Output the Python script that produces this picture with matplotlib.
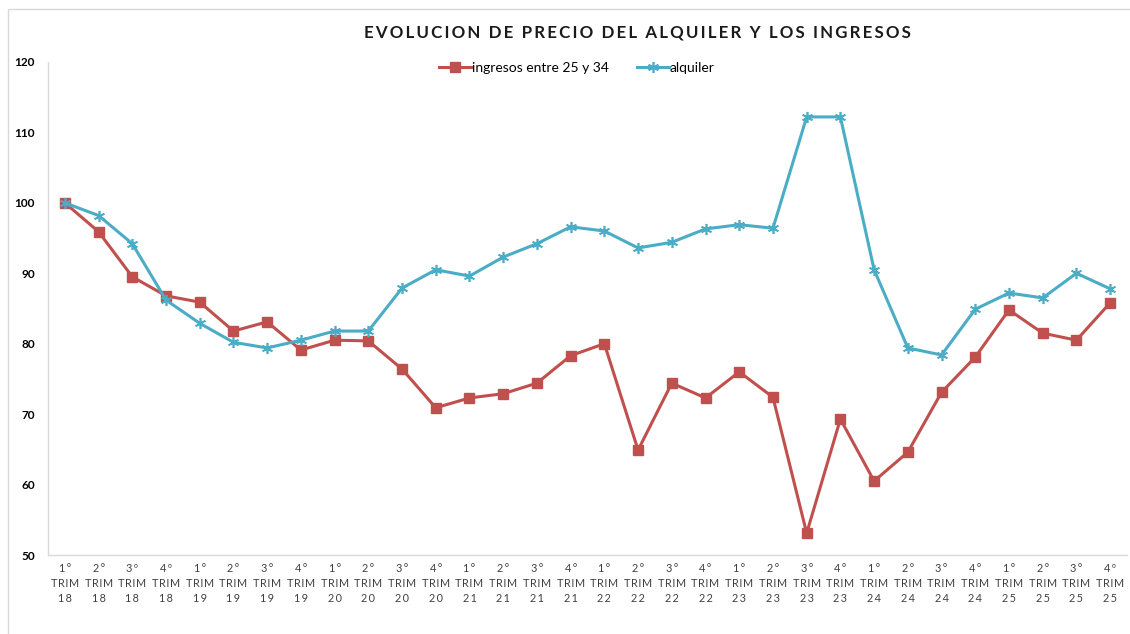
import numpy as np
import matplotlib
matplotlib.use("Agg")
import matplotlib.pyplot as plt
from matplotlib.patches import Rectangle

plt.rcParams.update({"font.family": ["Lato", "DejaVu Sans"]})

RED = "#C0504D"
BLUE = "#4BACC6"

# ── data ─────────────────────────────────────────────────────────────────────
ordinals = ["1°", "2°", "3º", "4º",
            "1°", "2°", "3°", "4°",
            "1°", "2°", "3°", "4°",
            "1°", "2°", "3°", "4°",
            "1°", "2°", "3°", "4°",
            "1°", "2°", "3°", "4°",
            "1°", "2°", "3°", "4°",
            "1°", "2°", "3°", "4º"]
years = ["18"] * 4 + ["19"] * 4 + ["20"] * 4 + ["21"] * 4 + \
        ["22"] * 4 + ["23"] * 4 + ["24"] * 4 + ["25"] * 4

ingresos = [100.0, 95.9, 89.5, 86.8, 85.9, 81.8, 83.1, 79.1,
            80.5, 80.4, 76.4, 70.9, 72.3, 72.9, 74.4, 78.3,
            80.0, 64.9, 74.4, 72.3, 76.0, 72.4, 53.1, 69.3,
            60.5, 64.6, 73.1, 78.1, 84.8, 81.5, 80.5, 85.8]
alquiler = [100.0, 98.2, 94.2, 86.2, 82.9, 80.2, 79.4, 80.5,
            81.8, 81.8, 87.9, 90.5, 89.6, 92.3, 94.2, 96.6,
            96.0, 93.6, 94.4, 96.3, 96.9, 96.4, 112.2, 112.2,
            90.5, 79.4, 78.4, 84.9, 87.2, 86.5, 90.0, 87.8]

def spaced(s, sep="\u200a"):
    return sep.join(s)

labels = [spaced(o, "\u2009") + "\n" + spaced("TRIM") + "\n" + spaced(y, "\u2009")
          for o, y in zip(ordinals, years)]

# ── figure ───────────────────────────────────────────────────────────────────
fig = plt.figure(figsize=(11.3, 6.34), dpi=100)
fig.patches.append(Rectangle((8 / 1130, -0.1), 1.2, 1.1 - 9 / 634,
                             transform=fig.transFigure, fill=False,
                             edgecolor="#D9D9D9", linewidth=1.0))

ax = fig.add_axes([48 / 1130, 79 / 634, 1079 / 1130, 493 / 634])
x = np.arange(len(ingresos))

ax.plot(x, ingresos, color=RED, lw=2.2, marker="s", markersize=7,
        label="ingresos entre 25 y 34")
ax.plot(x, alquiler, color=BLUE, lw=2.2, marker=(6, 2, 0), markersize=8,
        markeredgewidth=1.2, label="alquiler")

ax.set_xlim(-0.5, len(x) - 0.5)
ax.set_ylim(50, 120)
ax.set_yticks(range(50, 121, 10))
ax.set_xticks(x)
ax.set_xticklabels(labels, fontsize=7.8, color="#404040", linespacing=1.4)
for t in ax.get_yticklabels():
    t.set_fontsize(8.5)
    t.set_fontweight("bold")
ax.tick_params(axis="both", length=0)
ax.tick_params(axis="y", pad=9.5)
ax.tick_params(axis="x", pad=6)

for s in ["top", "right"]:
    ax.spines[s].set_visible(False)
for s in ["left", "bottom"]:
    ax.spines[s].set_color("#D9D9D9")
    ax.spines[s].set_linewidth(1.0)

ax.legend(loc="upper center", bbox_to_anchor=(0.49, 1.025), ncol=2,
          frameon=False, fontsize=10, handlelength=2.3, columnspacing=2.0,
          handletextpad=0.1)

fig.text(637 / 1130, 1 - 33 / 634,
         "  ".join(spaced(w, "\u2009") for w in
                   "EVOLUCION DE PRECIO DEL ALQUILER Y LOS INGRESOS".split()),
         ha="center", va="center", fontsize=12.2, fontweight="bold",
         color="#1a1a1a")

fig.savefig("out.png", dpi=100)
